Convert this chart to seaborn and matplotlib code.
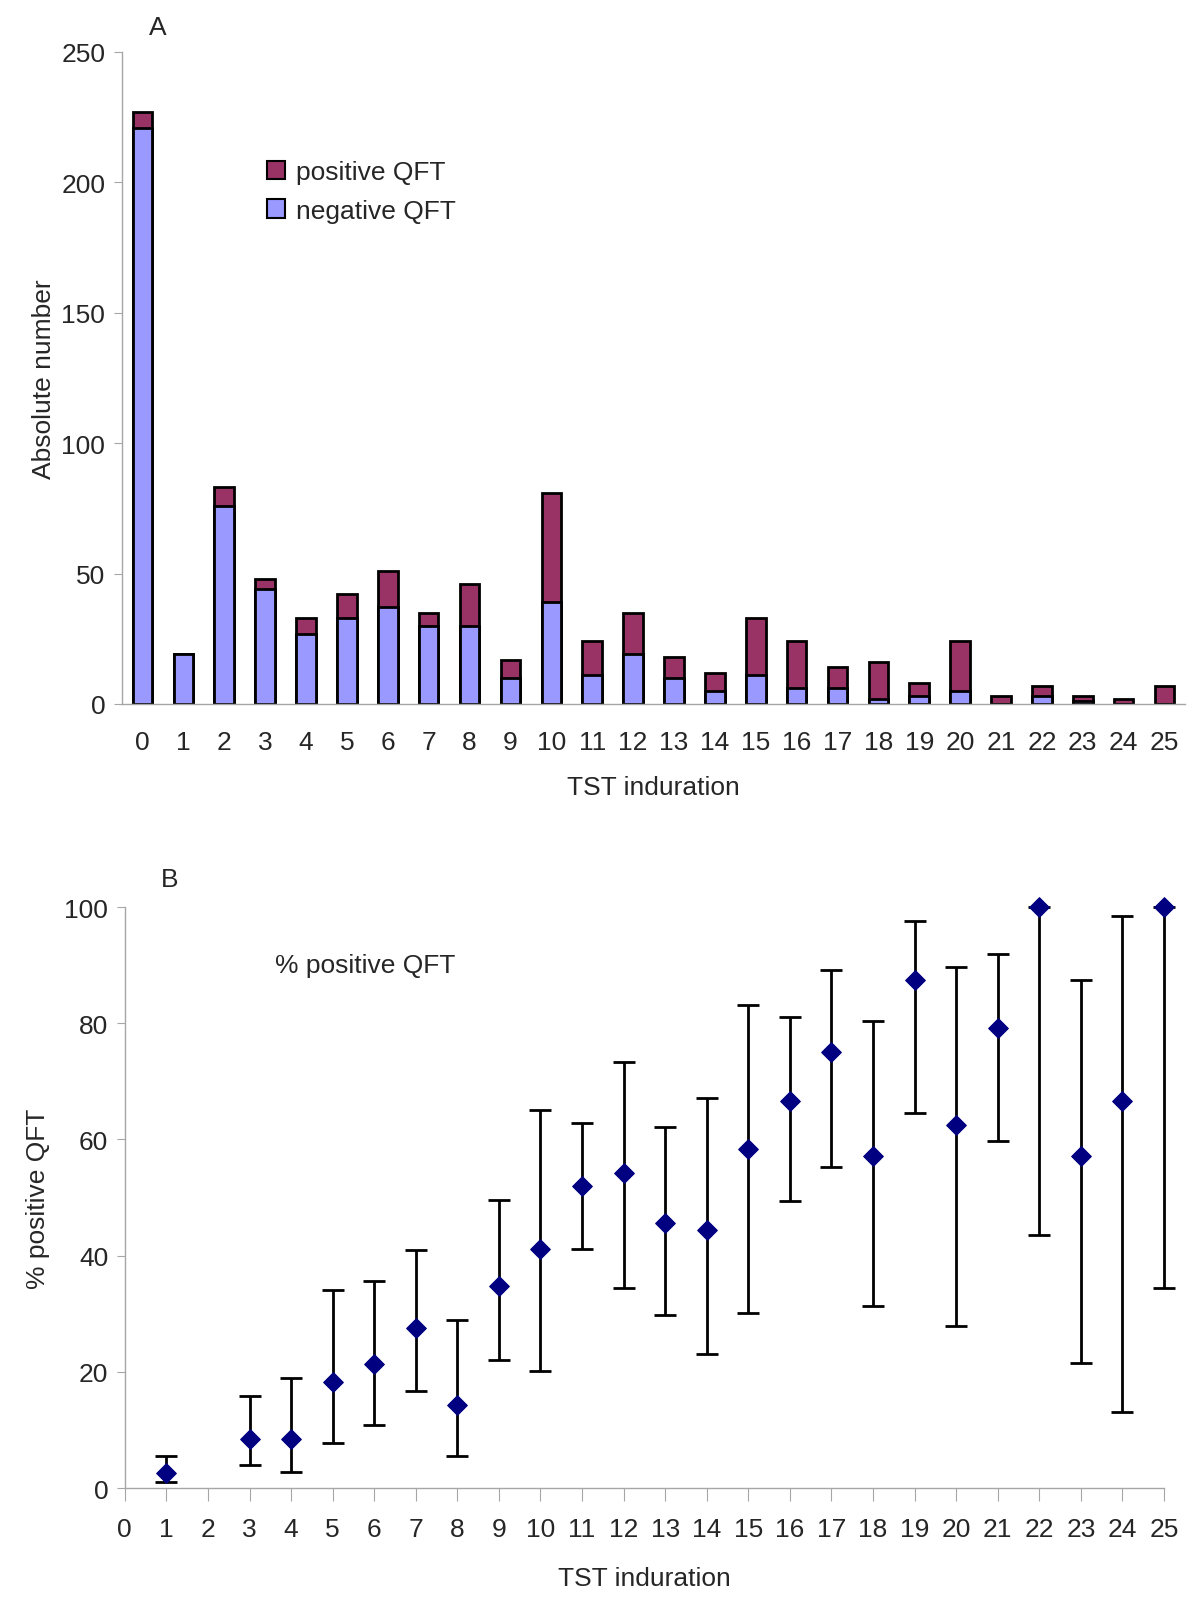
import numpy as np
import pandas as pd
import seaborn as sns
import matplotlib.pyplot as plt

# TST induration categories (panel A)
induration = list(range(26))
neg_qft = [221, 19, 76, 44, 27, 33, 37, 30, 30, 10, 39, 11, 19,
           10, 5, 11, 6, 6, 2, 3, 5, 0, 3, 1, 0, 0]
pos_qft = [6, 0, 7, 4, 6, 9, 14, 5, 16, 7, 42, 13, 16,
           8, 7, 22, 18, 8, 14, 5, 19, 3, 4, 2, 2, 7]

# panel B: % positive QFT with confidence limits
pct_x = [1, 3, 4, 5, 6, 7, 8, 9, 10, 11, 12, 13, 14, 15, 16, 17, 18, 19, 20, 21, 22, 23, 24, 25]
pct_pos = [2.6, 8.5, 8.4, 18.2, 21.3, 27.5, 14.3, 34.8, 41.2, 51.9, 54.2, 45.6,
           44.4, 58.3, 66.7, 75.0, 57.1, 87.5, 62.5, 79.2, 100.0, 57.1, 66.7, 100.0]
ci_low = [1.1, 3.9, 2.7, 7.8, 10.8, 16.7, 5.5, 22.1, 20.2, 41.1, 34.5, 29.7,
          23.1, 30.2, 49.4, 55.2, 31.3, 64.5, 27.8, 59.8, 43.6, 21.5, 13.0, 34.4]
ci_high = [5.5, 15.9, 19.0, 34.1, 35.6, 41.0, 29.0, 49.6, 65.1, 62.8, 73.3, 62.1,
           67.2, 83.1, 81.1, 89.2, 80.3, 97.6, 89.6, 91.9, 100.0, 87.5, 98.4, 100.0]

sns.set_style("white")
plt.rcParams['font.family'] = ['Liberation Sans', 'DejaVu Sans']
plt.rcParams['font.size'] = 19

neg_col = '#9999FF'
pos_col = '#993366'
grey = '#a6a6a6'

df = pd.DataFrame({'TST': induration, 'neg': neg_qft, 'pos': pos_qft})
df['total'] = df['neg'] + df['pos']

fig = plt.figure(figsize=(12, 16.08), dpi=100)

# ---- Panel A: stacked bars ----
ax1 = fig.add_axes([0.1017, 0.5616, 0.8858, 0.4055])
sns.barplot(data=df, x='TST', y='total', color=pos_col, edgecolor='black',
            linewidth=2, width=0.48, saturation=1, ax=ax1, label='positive QFT')
sns.barplot(data=df, x='TST', y='neg', color=neg_col, edgecolor='black',
            linewidth=2, width=0.48, saturation=1, ax=ax1, label='negative QFT')
ax1.set_xlim(-0.5, 25.5)
ax1.set_ylim(0, 250)
ax1.set_yticks([0, 50, 100, 150, 200, 250])
ax1.set_xlabel('TST induration', labelpad=15)
ax1.set_ylabel('Absolute number', labelpad=4)
ax1.set_xticks(np.arange(-0.5, 26, 1), minor=True)
ax1.tick_params(axis='x', which='major', length=0, pad=19)
ax1.tick_params(axis='x', which='minor', length=8, color=grey, direction='out')
ax1.tick_params(axis='y', length=6, color=grey, direction='out', left=True, pad=6)
sns.despine(ax=ax1)
for s in ['left', 'bottom']:
    ax1.spines[s].set_color(grey)
    ax1.spines[s].set_linewidth(1)
leg = ax1.legend(loc='upper left', bbox_to_anchor=(0.114, 0.87), frameon=False,
                 handlelength=0.7, handleheight=0.7, handletextpad=0.4,
                 labelspacing=0.55, fontsize=19)
for h in leg.legend_handles:
    h.set_linewidth(1.5)
fig.text(0.124, 0.9826, 'A', fontsize=19, va='center')

# ---- Panel B: % positive with CI ----
ax2 = fig.add_axes([0.104, 0.074, 0.866, 0.3613])
yerr = [np.array(pct_pos) - np.array(ci_low), np.array(ci_high) - np.array(pct_pos)]
eb = ax2.errorbar(pct_x, pct_pos, yerr=yerr, fmt='none', ecolor='black',
                  elinewidth=2, capsize=8, capthick=2, zorder=2)
for artist in eb.lines[1] + eb.lines[2]:
    artist.set_clip_on(False)
sns.scatterplot(x=pct_x, y=pct_pos, marker='D', s=100, color='#000080',
                edgecolor='#000080', ax=ax2, zorder=3, clip_on=False)
ax2.set_xlim(0, 25)
ax2.set_ylim(0, 100)
ax2.set_xticks(range(26))
ax2.set_yticks([0, 20, 40, 60, 80, 100])
ax2.set_xlabel('TST induration', labelpad=18)
ax2.set_ylabel('% positive QFT', labelpad=10)
ax2.tick_params(axis='x', length=9, color=grey, direction='out', bottom=True, pad=12)
ax2.tick_params(axis='y', length=6, color=grey, direction='out', left=True, pad=6)
sns.despine(ax=ax2)
for s in ['left', 'bottom']:
    ax2.spines[s].set_color(grey)
    ax2.spines[s].set_linewidth(1)
ax2.text(0.145, 0.9, '% positive QFT', transform=ax2.transAxes, fontsize=19, va='center')
fig.text(0.134, 0.4527, 'B', fontsize=19, va='center')

fig.savefig('out.png', dpi=100)
